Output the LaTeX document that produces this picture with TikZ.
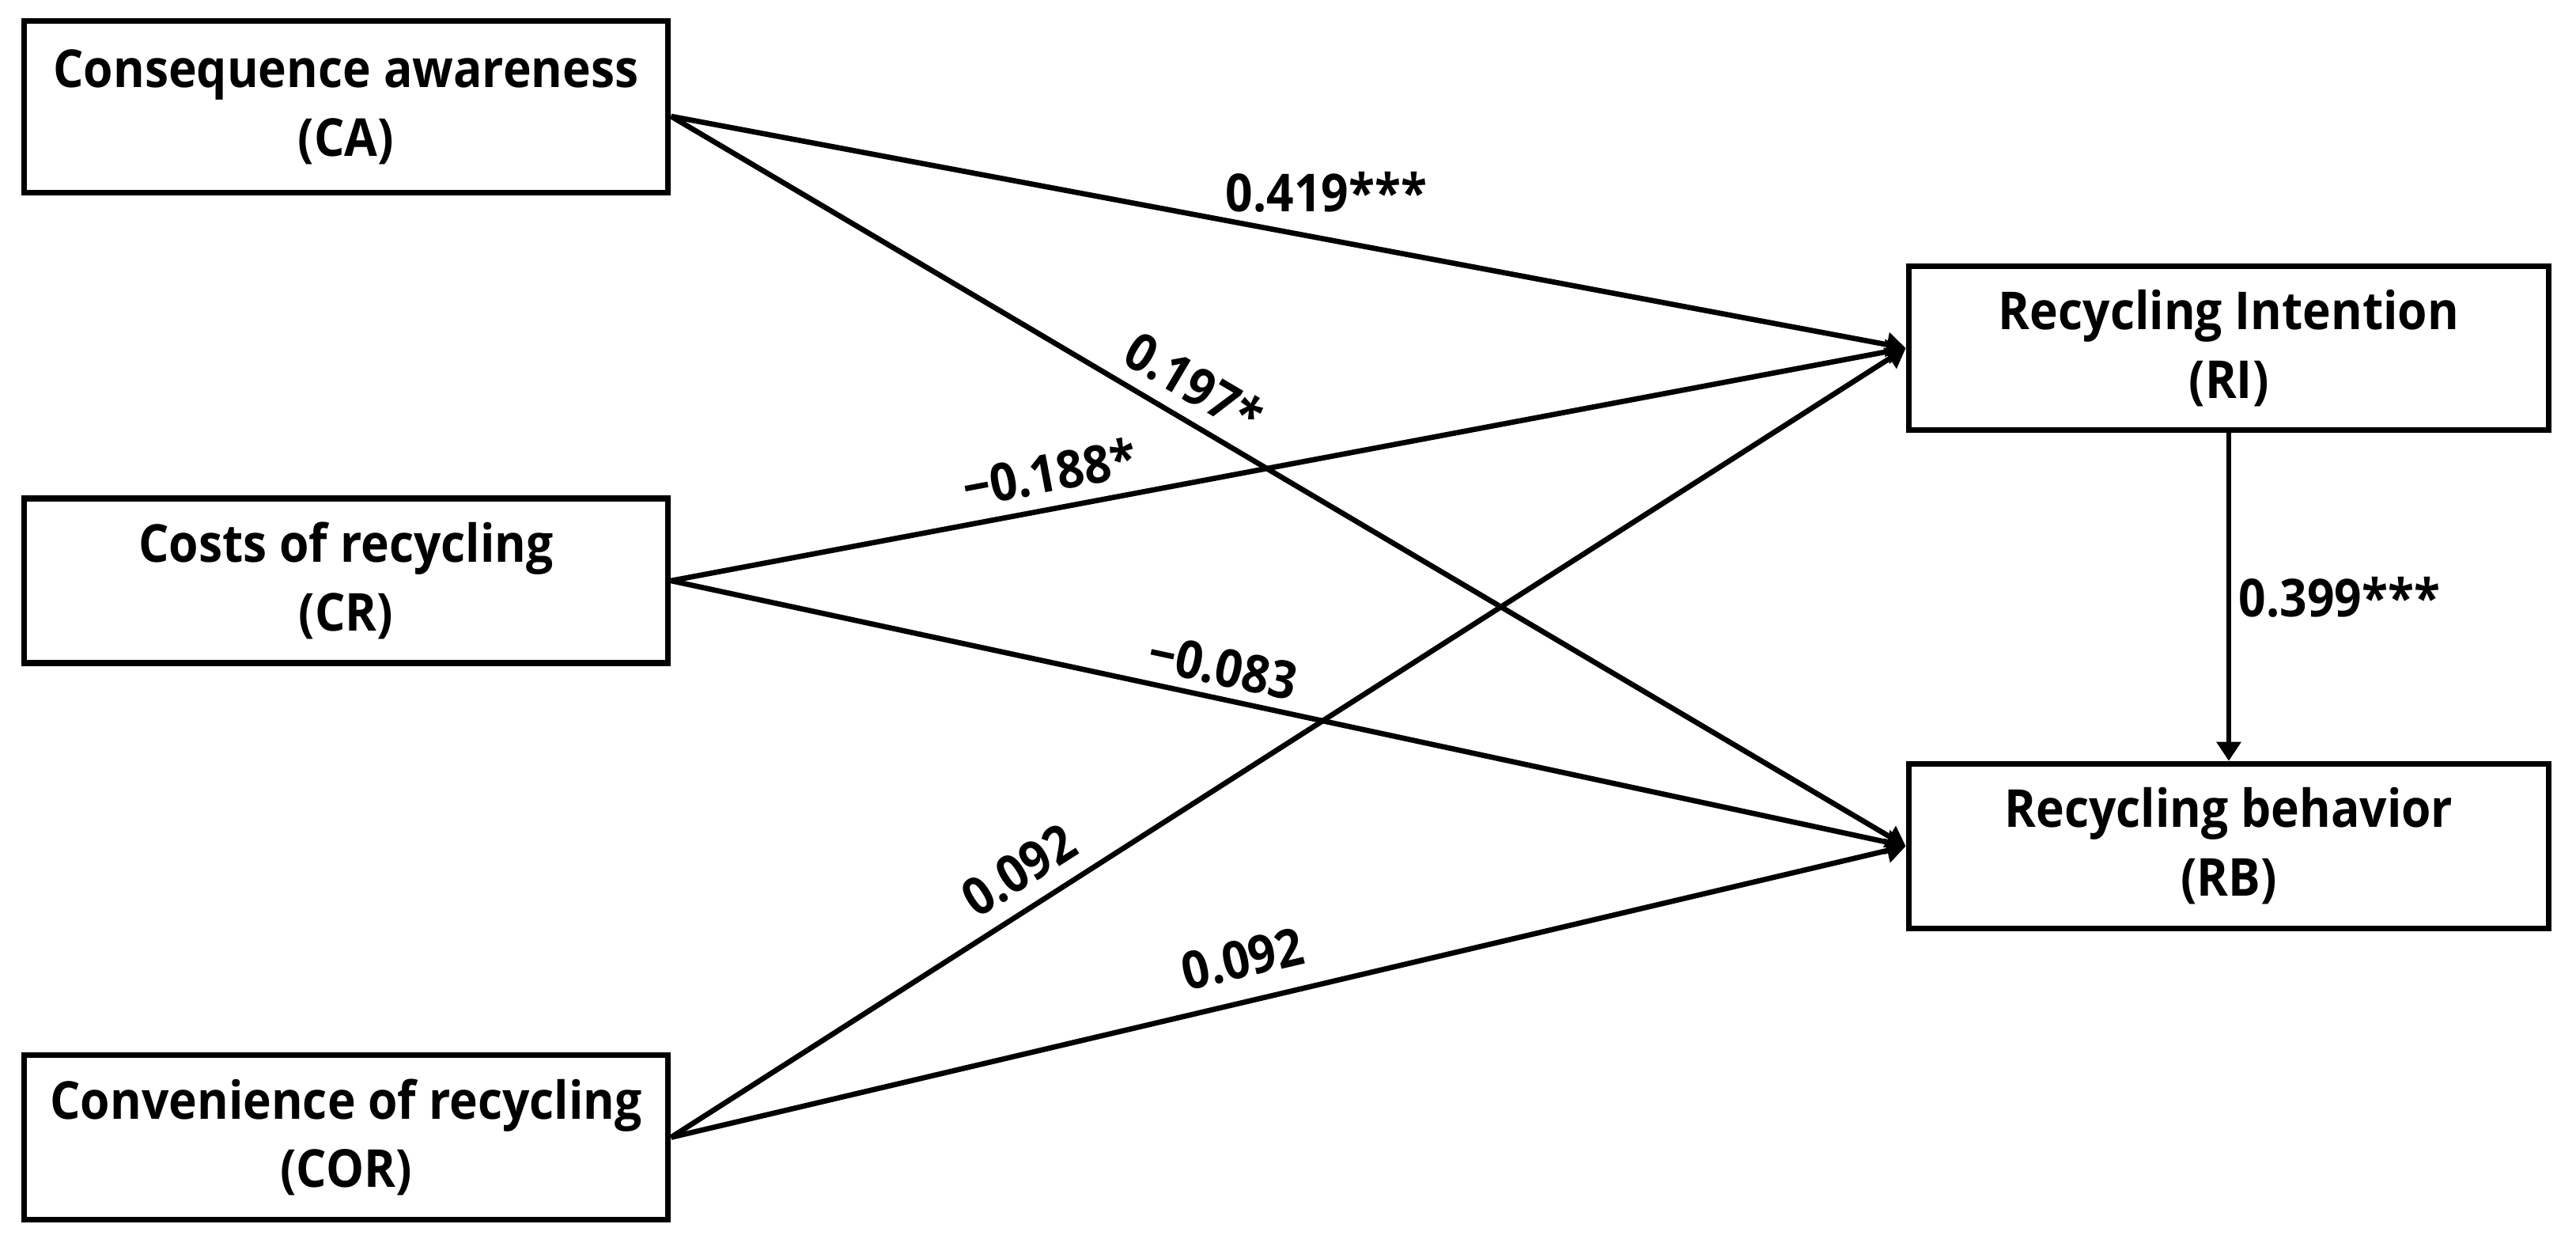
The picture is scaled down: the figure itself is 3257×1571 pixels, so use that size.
\documentclass[tikz,border=0pt]{standalone}
\usepackage{fontspec}
\setmainfont{Open Sans}[FakeStretch=0.915]
\usetikzlibrary{arrows.meta}
\newcommand\diafont{\fontsize{18.8pt}{24.7pt}\selectfont\bfseries}
\begin{document}
\begin{tikzpicture}[x=0.01cm, y=-0.01cm,
  box/.style={draw, line width=2.1pt, fill=white, minimum width=8.14cm, minimum height=2.08cm, align=center, inner sep=0pt, font=\diafont},
  conn/.style={line width=1.9pt, -{Triangle[length=0.24cm,width=0.3cm]}},
  lbl/.style={font=\diafont, inner sep=0pt}]
\useasboundingbox (0,0) rectangle (3257,1571);
% boxes
\node[box, minimum height=2.17cm] (CA) at (437.5,135) {Consequence awareness\\(CA)};
\node[box] (CR) at (437.5,734) {Costs of recycling\\(CR)};
\node[box] (COR) at (437.5,1437.5) {Convenience of recycling\\(COR)};
\node[box, minimum width=8.09cm, minimum height=2.07cm] (RI) at (2818,440) {Recycling Intention\\(RI)};
\node[box, minimum width=8.09cm] (RB) at (2818,1069.5) {Recycling behavior\\(RB)};
% connectors
\draw[conn] ([yshift=-0.12cm]CA.east) -- (RI.west);
\draw[conn] ([yshift=-0.12cm]CA.east) -- (RB.west);
\draw[conn] (CR.east) -- (RI.west);
\draw[conn] (CR.east) -- (RB.west);
\draw[conn] (COR.east) -- (RI.west);
\draw[conn] (COR.east) -- (RB.west);
\draw[conn] (RI.south) -- (RB.north);
% labels
\node[lbl] (l1) at (1677,243) {0.419***};
\node[lbl, rotate=-30.6] (l2) at (1510,484) {0.197*};
\node[lbl, rotate=10.7] (l3) at (1327,597) {−0.188*};
\node[lbl, rotate=-12.1] (l4) at (1546,843) {−0.083};
\node[lbl, rotate=32.5] (l5) at (1288,1100) {0.092};
\node[lbl, rotate=13.2] (l6) at (1571,1212) {0.092};
\node[lbl, anchor=west] (l7) at (2830,755) {0.399***};
\end{tikzpicture}
\end{document}
